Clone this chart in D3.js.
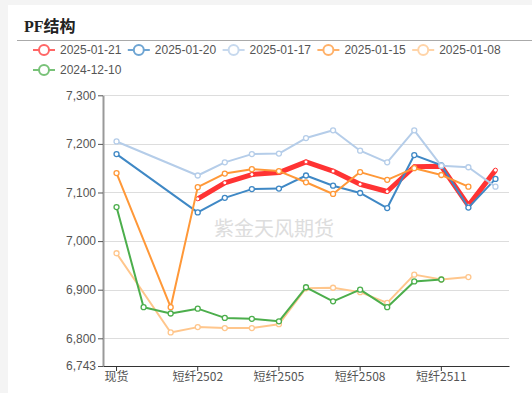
<!DOCTYPE html>
<html>
<head>
<meta charset="utf-8">
<script src="https://cdn.jsdelivr.net/npm/d3@7"></script>
<style>
  html, body { margin: 0; padding: 0; background: #f4f4f4; }
  svg { display: block; }
</style>
</head>
<body>
<svg id="chart" width="532" height="393"></svg>
<script>
// Categories on the x axis
var categories = ["现货", "短纤2412", "短纤2501", "短纤2502", "短纤2503", "短纤2504", "短纤2505",
  "短纤2506", "短纤2507", "短纤2508", "短纤2509", "短纤2510", "短纤2511", "短纤2512", "短纤2601"];

// One array per date, null = no quote
var s20250121 = [null, null, null, 7087, 7120, 7137, 7141, 7163, 7144, 7117, 7102, 7153, 7154, 7073, 7146];
var s20250120 = [7179, null, null, 7059, 7089, 7107, 7108, 7135, 7114, 7099, 7068, 7177, 7156, 7069, 7128];
var s20250117 = [7205, null, null, 7135, 7162, 7179, 7180, 7212, 7228, 7186, 7162, 7228, 7155, 7152, 7112];
var s20250115 = [7140, null, 6864, 7111, 7139, 7148, 7144, 7121, 7097, 7142, 7126, 7150, 7136, 7112, null];
var s20250108 = [6975, null, 6812, 6823, 6821, 6821, 6829, 6903, 6904, 6895, 6873, 6931, 6921, 6926, null];
var s20241210 = [7070, 6864, 6851, 6861, 6842, 6840, 6835, 6905, 6876, 6900, 6864, 6917, 6921, null, null];

var seriesNames = ["2025-01-21", "2025-01-20", "2025-01-17", "2025-01-15", "2025-01-08", "2024-12-10"];
var seriesValues = [s20250121, s20250120, s20250117, s20250115, s20250108, s20241210];

// Y axis ticks (min label is the data floor)
var yTicks = [6743, 6800, 6900, 7000, 7100, 7200, 7300];
// Only every third category gets a label
var xTickLabels = ["现货", "短纤2502", "短纤2505", "短纤2508", "短纤2511"];

var colors = ["#ff3333", "#3f88c5", "#b5cde9", "#ff9838", "#ffc68c", "#4cae4c"];
var widths = [5, 2, 2, 2, 2, 2];

var svg = d3.select("#chart");

// white card
svg.append("rect").attr("x", 8).attr("y", 5).attr("width", 524).attr("height", 388).attr("fill", "#fff");

// title
svg.append("text")
  .attr("x", 24).attr("y", 32)
  .attr("font-family", "'Liberation Serif', 'Noto Sans CJK SC', serif")
  .attr("font-weight", "bold")
  .attr("font-size", 16)
  .attr("fill", "#222")
  .text("PF结构");
svg.append("line")
  .attr("x1", 17).attr("x2", 532).attr("y1", 40.5).attr("y2", 40.5)
  .attr("stroke", "#aaa").attr("stroke-width", 1);

// legend
var legend = svg.append("g");
seriesNames.forEach(function(name, i) {
  var col = i % 5, row = Math.floor(i / 5);
  var g = legend.append("g")
    .attr("transform", "translate(" + (33 + col * 94.8) + "," + (50 + row * 20) + ")")
    .attr("opacity", 0.75);
  g.append("line").attr("x1", 0).attr("x2", 22).attr("y1", 0).attr("y2", 0)
    .attr("stroke", colors[i]).attr("stroke-width", 2);
  g.append("circle").attr("cx", 11).attr("cy", 0).attr("r", 5)
    .attr("fill", "#fff").attr("stroke", colors[i]).attr("stroke-width", 2);
  legend.append("text")
    .attr("x", 60 + col * 94.8).attr("y", 50 + row * 20).attr("dy", "0.35em")
    .attr("font-family", "'Liberation Sans', Arial, sans-serif")
    .attr("font-size", 12)
    .attr("fill", "#555")
    .text(name);
});

// Scales
var x = d3.scaleBand().domain(categories).range([103, 509]).padding(0);
var y = d3.scaleLinear().domain([6743, 7300]).range([366, 95.3]);
function cx(c) { return x(c) + x.bandwidth() / 2; }

// grid
svg.append("g").selectAll("line")
  .data(yTicks.slice(1))
  .enter().append("line")
  .attr("x1", 103).attr("x2", 509)
  .attr("y1", function(d) { return Math.round(y(d)) + 0.5; })
  .attr("y2", function(d) { return Math.round(y(d)) + 0.5; })
  .attr("stroke", "#ddd").attr("stroke-width", 1);

// watermark
svg.append("text")
  .attr("x", 274).attr("y", 236)
  .attr("text-anchor", "middle")
  .attr("font-family", "'Noto Sans CJK SC', sans-serif")
  .attr("font-size", 20)
  .attr("fill", "#ddd")
  .text("紫金天风期货");

// y axis
var yAxis = svg.append("g")
  .attr("transform", "translate(103,0)")
  .call(d3.axisLeft(y).tickValues(yTicks).tickFormat(d3.format(",")).tickSize(5).tickSizeOuter(0));
yAxis.select(".domain").attr("stroke", "#999").attr("stroke-width", 2);
yAxis.selectAll(".tick line").attr("stroke", "#555");
yAxis.selectAll(".tick text")
  .attr("x", -7)
  .attr("font-family", "'Liberation Sans', Arial, sans-serif")
  .attr("font-size", 12).attr("fill", "#555");

// x axis
var xAxis = svg.append("g")
  .attr("transform", "translate(0,366)")
  .call(d3.axisBottom(x).tickValues(xTickLabels).tickSize(5).tickSizeOuter(0));
xAxis.select(".domain").attr("stroke", "#333");
xAxis.selectAll(".tick line").attr("stroke", "#333");
xAxis.selectAll(".tick text")
  .attr("y", 6)
  .attr("font-family", "'Noto Sans CJK SC', 'Liberation Sans', sans-serif")
  .attr("font-size", 12).attr("fill", "#555");

// lines, nulls are skipped and the line connects across them
var line = d3.line()
  .x(function(d) { return cx(d.c); })
  .y(function(d) { return y(d.v); });

seriesValues.forEach(function(vals, i) {
  var pts = vals.map(function(v, k) { return { c: categories[k], v: v }; })
    .filter(function(d) { return d.v !== null; });
  var g = svg.append("g");
  g.append("path")
    .datum(pts)
    .attr("d", line)
    .attr("fill", "none")
    .attr("stroke", colors[i])
    .attr("stroke-width", widths[i])
    .attr("stroke-linejoin", "round");
  g.selectAll("circle")
    .data(pts)
    .enter().append("circle")
    .attr("cx", function(d) { return cx(d.c); })
    .attr("cy", function(d) { return y(d.v); })
    .attr("r", i === 0 ? 2 : 2.5)
    .attr("fill", "#fff")
    .attr("stroke", colors[i])
    .attr("stroke-width", i === 0 ? 1 : 1.3);
});
</script>
</body>
</html>
